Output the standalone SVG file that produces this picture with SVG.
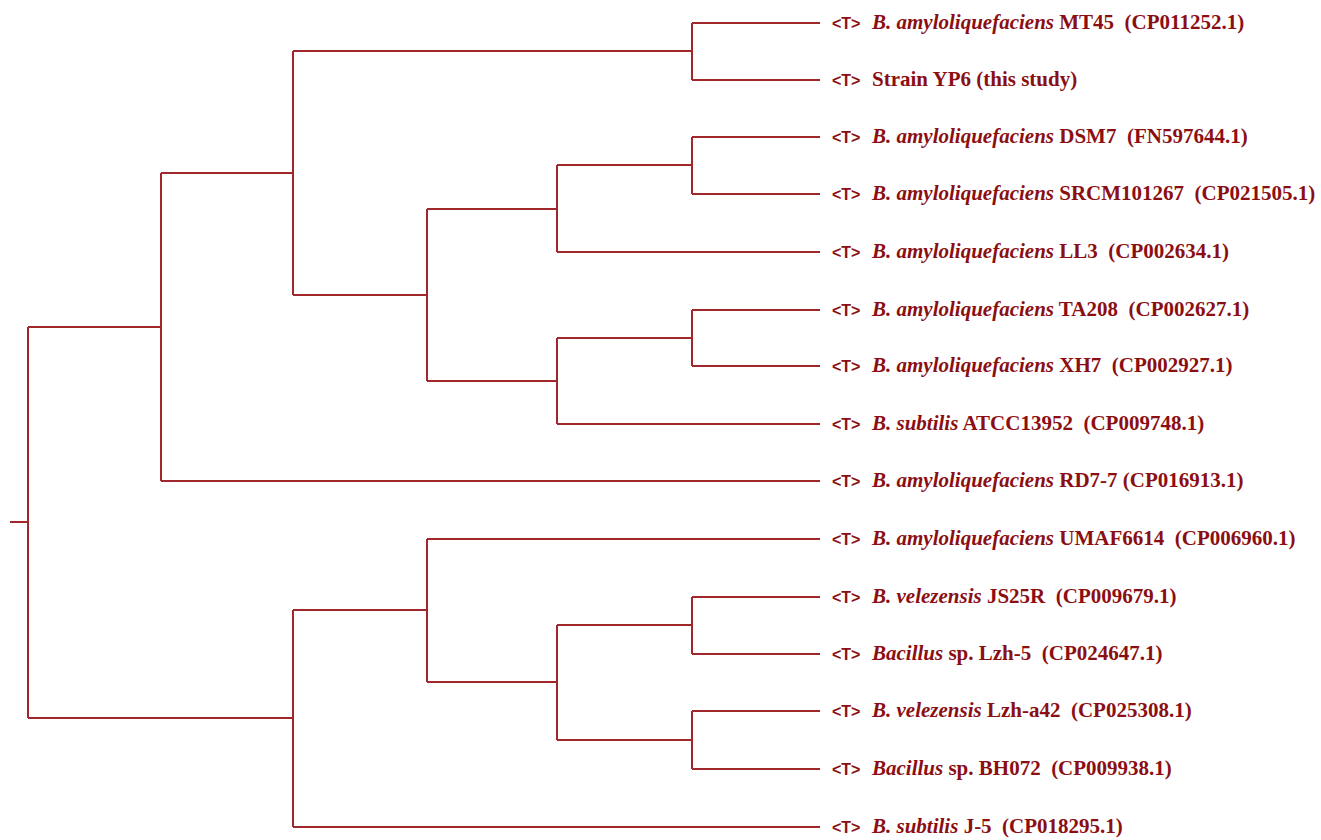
<svg xmlns="http://www.w3.org/2000/svg" width="1321" height="840" viewBox="0 0 1321 840">
<style>
.e{fill:none;stroke:#a0272b;stroke-width:2}
.t{font-family:"Liberation Sans",Arial,sans-serif;font-weight:bold;font-size:16px;fill:#8b0f12}
.l{font-family:"Liberation Serif","Times New Roman",serif;font-weight:bold;font-size:21px;fill:#8b0f12;white-space:pre}
.i{font-style:italic}
</style>
<rect width="1321" height="840" fill="#fff"/>
<g id="connectors">
<path class="e" d="M10,522H28M28,327V718M28,327H161M28,718H293"/>
<path class="e" d="M161,173V481M161,173H293M161,481H820"/>
<path class="e" d="M293,51V295M293,51H692M293,295H427"/>
<path class="e" d="M692,23V80M692,23H820M692,80H820"/>
<path class="e" d="M427,209V381M427,209H557M427,381H557"/>
<path class="e" d="M557,165V252M557,165H692M557,252H820"/>
<path class="e" d="M692,137V194M692,137H820M692,194H820"/>
<path class="e" d="M557,338V424M557,338H692M557,424H820"/>
<path class="e" d="M692,310V366M692,310H820M692,366H820"/>
<path class="e" d="M293,610V827M293,610H427M293,827H820"/>
<path class="e" d="M427,539V682M427,539H820M427,682H557"/>
<path class="e" d="M557,625V740M557,625H692M557,740H692"/>
<path class="e" d="M692,597V654M692,597H820M692,654H820"/>
<path class="e" d="M692,711V769M692,711H820M692,769H820"/>
</g>
<g id="n1"><text class="t" x="832" y="29">&lt;T&gt;</text><text class="l" x="872" y="29"><tspan class="i">B. amyloliquefaciens</tspan> MT45  (CP011252.1)</text></g>
<g id="n2"><text class="t" x="832" y="86">&lt;T&gt;</text><text class="l" x="872" y="86">Strain YP6 (this study)</text></g>
<g id="n3"><text class="t" x="832" y="143">&lt;T&gt;</text><text class="l" x="872" y="143"><tspan class="i">B. amyloliquefaciens</tspan> DSM7  (FN597644.1)</text></g>
<g id="n4"><text class="t" x="832" y="200">&lt;T&gt;</text><text class="l" x="872" y="200"><tspan class="i">B. amyloliquefaciens</tspan> SRCM101267  (CP021505.1)</text></g>
<g id="n5"><text class="t" x="832" y="258">&lt;T&gt;</text><text class="l" x="872" y="258"><tspan class="i">B. amyloliquefaciens</tspan> LL3  (CP002634.1)</text></g>
<g id="n6"><text class="t" x="832" y="316">&lt;T&gt;</text><text class="l" x="872" y="316"><tspan class="i">B. amyloliquefaciens</tspan> TA208  (CP002627.1)</text></g>
<g id="n7"><text class="t" x="832" y="372">&lt;T&gt;</text><text class="l" x="872" y="372"><tspan class="i">B. amyloliquefaciens</tspan> XH7  (CP002927.1)</text></g>
<g id="n8"><text class="t" x="832" y="430">&lt;T&gt;</text><text class="l" x="872" y="430"><tspan class="i">B. subtilis</tspan> ATCC13952  (CP009748.1)</text></g>
<g id="n9"><text class="t" x="832" y="487">&lt;T&gt;</text><text class="l" x="872" y="487"><tspan class="i">B. amyloliquefaciens</tspan> RD7-7 (CP016913.1)</text></g>
<g id="n10"><text class="t" x="832" y="545">&lt;T&gt;</text><text class="l" x="872" y="545"><tspan class="i">B. amyloliquefaciens</tspan> UMAF6614  (CP006960.1)</text></g>
<g id="n11"><text class="t" x="832" y="603">&lt;T&gt;</text><text class="l" x="872" y="603"><tspan class="i">B. velezensis</tspan> JS25R  (CP009679.1)</text></g>
<g id="n12"><text class="t" x="832" y="660">&lt;T&gt;</text><text class="l" x="872" y="660"><tspan class="i">Bacillus</tspan> sp. Lzh-5  (CP024647.1)</text></g>
<g id="n13"><text class="t" x="832" y="717">&lt;T&gt;</text><text class="l" x="872" y="717"><tspan class="i">B. velezensis</tspan> Lzh-a42  (CP025308.1)</text></g>
<g id="n14"><text class="t" x="832" y="775">&lt;T&gt;</text><text class="l" x="872" y="775"><tspan class="i">Bacillus</tspan> sp. BH072  (CP009938.1)</text></g>
<g id="n15"><text class="t" x="832" y="833">&lt;T&gt;</text><text class="l" x="872" y="833"><tspan class="i">B. subtilis</tspan> J-5  (CP018295.1)</text></g>
</svg>
